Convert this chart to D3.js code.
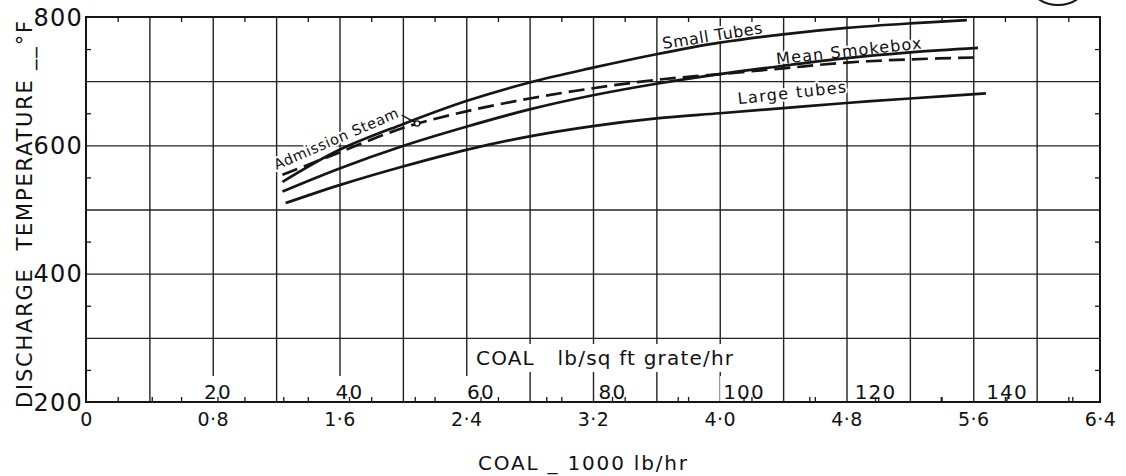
<!DOCTYPE html>
<html>
<head>
<meta charset="utf-8">
<script src="https://cdn.jsdelivr.net/npm/d3@7"></script>
<style>
  html, body { margin: 0; padding: 0; background: #fff; }
  svg { display: block; }
  text { font-family: "DejaVu Sans", sans-serif; fill: #111; }
</style>
</head>
<body>
<svg id="chart" width="1126" height="476"></svg>
<script>
// Coal fired (1000 lb/hr) against discharge temperature (°F)
const smallTubesCoal = [1.24, 1.6, 2.0, 2.4, 2.8, 3.2, 3.6, 4.0, 4.4, 4.8, 5.2, 5.56];
const smallTubesTemp = [543, 593, 633, 669, 698, 721, 742, 760, 773, 783, 790, 795];

const meanSmokeboxCoal = [1.24, 1.6, 2.0, 2.4, 2.8, 3.2, 3.6, 4.0, 4.4, 4.8, 5.2, 5.63];
const meanSmokeboxTemp = [528, 564, 599, 629, 656, 678, 696, 711, 724, 736, 745, 752];

const admissionSteamCoal = [1.24, 1.6, 2.0, 2.4, 2.8, 3.2, 3.6, 4.0, 4.4, 4.8, 5.2, 5.63];
const admissionSteamTemp = [554, 589, 627, 653, 673, 689, 702, 711, 720, 729, 734, 737];

const largeTubesCoal = [1.26, 1.6, 2.0, 2.4, 2.8, 3.2, 3.6, 4.0, 4.4, 4.8, 5.2, 5.68];
const largeTubesTemp = [510, 538, 567, 593, 614, 630, 642, 650, 658, 666, 673, 681];

// Axis labels
const tempTickLabels = [200, 400, 600, 800];
const coalTickLabels = [0, 0.8, 1.6, 2.4, 3.2, 4.0, 4.8, 5.6, 6.4];
const grateTickLabels = [20, 40, 60, 80, 100, 120, 140];
const grateArea = 41.5; // sq ft of grate, links the two coal scales

const seriesNames = ["Small Tubes", "Mean Smokebox", "Large tubes", "Admission Steam"];

// ---- layout ----
const svg = d3.select("#chart");
const margin = { left: 86, top: 17, right: 26, bottom: 74 };
const W = 1126 - margin.left - margin.right;   // 1014
const H = 476 - margin.top - margin.bottom;    // 385

const x = d3.scaleLinear().domain([0, 6.4]).range([0, W]);
const y = d3.scaleLinear().domain([200, 800]).range([H, 0]);
const grate = d3.scaleLinear().domain([0, 6.4 * 1000 / grateArea]).range([0, W]);

const g = svg.append("g").attr("transform", `translate(${margin.left},${margin.top})`);

const ink = "#151515";

function styleLines(sel, width, color) {
  sel.select(".domain").remove();
  sel.selectAll(".tick line").attr("stroke", color).attr("stroke-width", width);
}

// ---- grid ----
g.append("g")
  .call(d3.axisLeft(y).tickValues(d3.range(300, 800, 100)).tickSize(-W).tickFormat(""))
  .call(s => styleLines(s, 1.4, "#222"));
g.append("g")
  .attr("transform", `translate(0,${H})`)
  .call(d3.axisBottom(x).tickValues(d3.range(1, 16).map(i => i * 0.4)).tickSize(-H).tickFormat(""))
  .call(s => styleLines(s, 1.4, "#222"));

// ---- grate-rate labels (sit just above the base line, masking the grid) ----
const grateAxis = g.append("g")
  .attr("transform", `translate(0,${H})`)
  .call(d3.axisTop(grate).tickValues(grateTickLabels).tickSize(0).tickPadding(3).tickFormat(d3.format("d")));
grateAxis.select(".domain").remove();
grateAxis.selectAll("text")
  .attr("font-size", 20).attr("letter-spacing", 1.2).attr("fill", ink)
  .attr("font-family", "DejaVu Sans, sans-serif");
grateAxis.selectAll(".tick").each(function () {
  const t = d3.select(this).select("text");
  const b = t.node().getBBox();
  d3.select(this).insert("rect", "text")
    .attr("x", b.x - 3).attr("y", b.y - 4)
    .attr("width", b.width + 6).attr("height", H - (b.y - 4) - 1)
    .attr("fill", "#fff");
});

// grate-rate scale title
const grateTitle = g.append("text")
  .attr("x", 390).attr("y", 348)
  .attr("font-size", 20)
  .attr("textLength", 257).attr("lengthAdjust", "spacing")
  .style("white-space", "pre")
  .text("COAL   lb/sq ft grate/hr");
{
  const b = grateTitle.node().getBBox();
  g.insert("rect", () => grateTitle.node())
    .attr("x", b.x - 3).attr("y", b.y - 2).attr("width", b.width + 6).attr("height", b.height + 4)
    .attr("fill", "#fff");
}

// ---- series labels (white halo breaks the grid behind them) ----
const labelSpecs = [
  { name: seriesNames[0], coal: 3.644, temp: 750, angle: -9.0, len: 101, size: 16 },
  { name: seriesNames[1], coal: 4.36, temp: 726, angle: -6.3, len: 146, size: 16 },
  { name: seriesNames[2], coal: 4.117, temp: 664, angle: -6.3, len: 109, size: 16 },
  { name: seriesNames[3], coal: 1.203, temp: 561.6, angle: -23.4, len: 134, size: 14.5 }
];
g.append("g").selectAll("text")
  .data(labelSpecs)
  .join("text")
  .attr("transform", d => `translate(${x(d.coal)},${y(d.temp)}) rotate(${d.angle})`)
  .attr("font-size", d => d.size)
  .attr("textLength", d => d.len).attr("lengthAdjust", "spacing")
  .attr("stroke", "#fff").attr("stroke-width", 4).attr("paint-order", "stroke")
  .attr("stroke-linejoin", "round")
  .text(d => d.name);

// ---- frame ----
g.append("rect")
  .attr("x", 0).attr("y", 0).attr("width", W).attr("height", H)
  .attr("fill", "none").attr("stroke", ink).attr("stroke-width", 2);

// ---- minor ticks, pointing inwards ----
const oddFifths = d3.range(0, 16).map(i => i * 0.4 + 0.2);
g.append("g")
  .call(d3.axisTop(x).tickValues(oddFifths).tickSize(-5).tickFormat(""))
  .call(s => styleLines(s, 1.3, ink));
g.append("g")
  .attr("transform", `translate(0,${H})`)
  .call(d3.axisBottom(x).tickValues(oddFifths).tickSize(-5).tickFormat(""))
  .call(s => styleLines(s, 1.3, ink));
g.append("g")
  .attr("transform", `translate(0,${H})`)
  .call(d3.axisBottom(grate).tickValues(d3.range(10, 151, 10)).tickSize(-5).tickFormat(""))
  .call(s => styleLines(s, 1.3, ink));
const halfSteps = d3.range(250, 800, 100);
g.append("g")
  .call(d3.axisLeft(y).tickValues(halfSteps).tickSize(-5).tickFormat(""))
  .call(s => styleLines(s, 1.3, ink));
g.append("g")
  .attr("transform", `translate(${W},0)`)
  .call(d3.axisRight(y).tickValues(halfSteps).tickSize(-5).tickFormat(""))
  .call(s => styleLines(s, 1.3, ink));

// ---- tick labels ----
const yLab = g.append("g")
  .call(d3.axisLeft(y).tickValues(tempTickLabels).tickSize(0).tickPadding(3).tickFormat(d3.format("d")));
yLab.select(".domain").remove();
yLab.selectAll("text")
  .attr("font-size", 24).attr("letter-spacing", 1.2).attr("fill", ink)
  .attr("font-family", "DejaVu Sans, sans-serif")
  .attr("dy", "0.34em");

const xLab = g.append("g")
  .attr("transform", `translate(0,${H})`)
  .call(d3.axisBottom(x).tickValues(coalTickLabels).tickSize(0)
    .tickFormat(d => d === 0 ? "0" : d3.format(".1f")(d).replace(".", "\u00B7")));
xLab.select(".domain").remove();
xLab.selectAll("text")
  .attr("font-size", 19).attr("letter-spacing", 0.5).attr("fill", ink)
  .attr("font-family", "DejaVu Sans, sans-serif")
  .attr("y", 24).attr("dy", null);

// ---- axis titles ----
svg.append("text")
  .attr("transform", "translate(32,408) rotate(-90)")
  .attr("font-size", 21)
  .attr("textLength", 387).attr("lengthAdjust", "spacing")
  .style("white-space", "pre")
  .text("DISCHARGE  TEMPERATURE __\u00B0F");

svg.append("text")
  .attr("x", 478).attr("y", 470)
  .attr("font-size", 20)
  .attr("textLength", 209).attr("lengthAdjust", "spacing")
  .style("white-space", "pre")
  .text("COAL _ 1000 lb/hr");

// ---- curves ----
const line = d3.line()
  .x(d => x(d[0])).y(d => y(d[1]))
  .curve(d3.curveCatmullRom.alpha(0.5));
const zip = (a, b) => a.map((v, i) => [v, b[i]]);

const curves = [
  { pts: zip(smallTubesCoal, smallTubesTemp), dash: null },
  { pts: zip(meanSmokeboxCoal, meanSmokeboxTemp), dash: null },
  { pts: zip(largeTubesCoal, largeTubesTemp), dash: null },
  { pts: zip(admissionSteamCoal, admissionSteamTemp), dash: "16,7" }
];
g.append("g").selectAll("path")
  .data(curves)
  .join("path")
  .attr("d", d => line(d.pts))
  .attr("fill", "none")
  .attr("stroke", ink)
  .attr("stroke-width", 2.7)
  .attr("stroke-linecap", "butt")
  .attr("stroke-dasharray", d => d.dash);

// leader from the "Admission Steam" label to its curve
const leaderFrom = [1.993, 647];
const leaderTo = [2.09, 634];
g.append("line")
  .attr("x1", x(leaderFrom[0])).attr("y1", y(leaderFrom[1]))
  .attr("x2", x(leaderTo[0])).attr("y2", y(leaderTo[1]))
  .attr("stroke", ink).attr("stroke-width", 1.4);
g.append("circle")
  .attr("cx", x(leaderTo[0])).attr("cy", y(leaderTo[1])).attr("r", 2.6)
  .attr("fill", "#fff").attr("stroke", ink).attr("stroke-width", 1.4);

// figure-number ring at the page corner
svg.append("circle")
  .attr("cx", 1058).attr("cy", -30).attr("r", 35)
  .attr("fill", "none").attr("stroke", ink).attr("stroke-width", 2);
</script>
</body>
</html>
